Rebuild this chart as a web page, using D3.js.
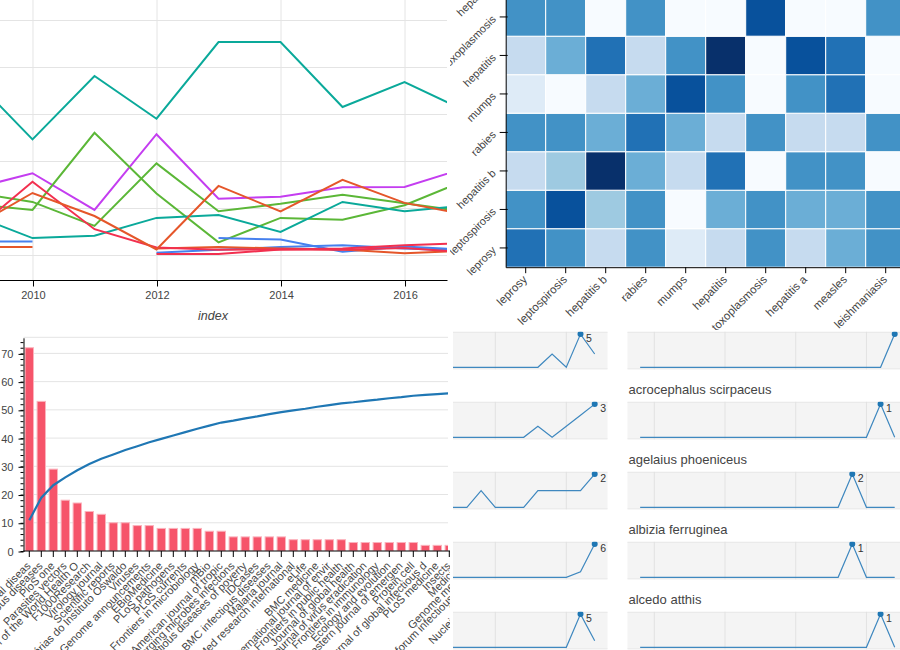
<!DOCTYPE html>
<html>
<head>
<meta charset="utf-8">
<script src="https://cdn.jsdelivr.net/npm/d3@7"></script>
<style>
  html, body { margin: 0; padding: 0; background: #fff; overflow: hidden; }
  svg { display: block; }
  text { font-family: "Liberation Sans", Arial, sans-serif; fill: #444; }
</style>
</head>
<body>
<script>
// line chart
var lineYears = [2009, 2010, 2011, 2012, 2013, 2014, 2015, 2016, 2017];
var lineTeal1 = [38.3, 24.7, 38.2, 29.1, 45.4, 45.4, 31.6, 36.9, 30.7];
var linePurple = [14.1, 17.5, 9.7, 25.8, 12.1, 12.5, 14.5, 14.6, 18.7];
var lineGreen1 = [11.0, 9.7, 26.1, 13.2, 2.8, 8.0, 7.6, 10.7, 16.1];
var lineGreen2 = [13.5, 11.4, 6.3, 19.6, 9.4, 11.0, 12.9, 11.1, 9.3];
var lineTeal2 = [8.8, 3.7, 4.2, 8.0, 8.6, 5.0, 11.4, 9.4, 10.7];
var lineBlue1 = [3.0, 3.0, null, 0.6, 1.2, 1.8, 2.2, 1.5, 1.0];
var lineBlue2 = [null, null, null, null, 3.7, 3.4, 0.8, 1.9, 1.2];
var lineOrange2 = [1.8, 1.8, null, 1.5, 1.8, 1.5, 1.3, 0.5, 1.0];
var lineRed2 = [null, null, null, 0.3, 0.3, 1.3, 1.5, 2.2, 2.6];
var lineRed1 = [4.6, 15.7, 5.6, 1.7, 1.2, 1.3, 1.2, 1.6, 0.7];
var lineOrange1 = [5.7, 13.3, 8.4, 1.3, 14.8, 9.4, 16.1, 11.2, 8.7];
var lineXTicks = [2010, 2012, 2014, 2016];
var lineYGrid = [0, 10, 20, 30, 40, 50];

// heatmap, shade levels 0-8
var heatCols = ['leprosy', 'leptospirosis', 'hepatitis b', 'rabies', 'mumps', 'hepatitis', 'toxoplasmosis', 'hepatitis a', 'measles', 'leishmaniasis'];
var heatRows = ['leprosy', 'leptospirosis', 'hepatitis b', 'rabies', 'mumps', 'hepatitis', 'toxoplasmosis', 'hepatitis a'];
var heatLeprosy = [6, 5, 2, 5, 1, 2, 5, 2, 4, 5];
var heatLeptospirosis = [5, 7, 3, 5, 0, 4, 5, 4, 4, 5];
var heatHepatitisB = [2, 3, 8, 4, 2, 6, 0, 5, 5, 0];
var heatRabies = [5, 5, 4, 6, 4, 2, 5, 2, 2, 5];
var heatMumps = [1, 0, 2, 4, 7, 5, 0, 5, 6, 0];
var heatHepatitis = [2, 4, 6, 2, 5, 8, 0, 7, 6, 0];
var heatToxoplasmosis = [5, 5, 0, 5, 0, 0, 7, 0, 0, 5];

// pareto bars
var barLabels = ['PLoS neglected tropical diseas', 'Clinical infectious diseases', 'PloS one', 'Parasites  vectors',
  'Bulletin of the World Health O', 'F1000Research', 'Virology journal', 'Scientific reports',
  'Memórias do Instituto Oswaldo', 'Viruses', 'Genome announcements', 'EBioMedicine', 'PLoS pathogens', 'PLoS currents',
  'Frontiers in microbiology', 'mBio', 'The American journal of tropic', 'Emerging microbes  infections',
  'Infectious diseases of poverty', 'IDCases', 'BMC infectious diseases', 'Malaria journal', 'BioMed research international',
  'eLife', 'BMC medicine', 'International journal of envir', 'Frontiers in public health', 'Journal of global health',
  'Journal of virus eradication', 'Frontiers in immunology', 'Ecology and evolution', 'The western journal of emergen',
  'Protein  cell', 'Journal of global infectious d', 'PLoS medicine', 'Insects', 'Medicine', 'Genome medicine',
  'Open forum infectious diseases', 'Global health', 'Nucleic acids research'];
var barValues = [72, 53, 29, 18, 17, 14, 13, 10, 10, 9, 9, 8, 8, 8, 8, 7, 7, 5, 5, 5, 5, 5, 4, 4, 4, 4, 4, 3, 3, 3, 3, 3, 3, 2, 2, 2, 2, 2, 2, 2, 2];
var barCumulative = [10.9, 18.9, 23.3, 26.1, 28.6, 30.8, 32.7, 34.2, 35.8, 37.1, 38.5, 39.7, 40.9, 42.1, 43.3, 44.4, 45.5, 46.2, 47.0, 47.7, 48.5, 49.2, 49.8, 50.4, 51.1, 51.7, 52.3, 52.7, 53.2, 53.6, 54.1, 54.5, 55.0, 55.3, 55.6, 55.9, 56.2, 56.5, 56.8, 57.1, 57.4];
var barYTicks = [0, 10, 20, 30, 40, 50, 60, 70];

// sparklines
var sparkYearsLeft = [2007, 2008, 2009, 2010, 2011, 2012, 2013, 2014, 2015, 2016, 2017];
var sparkYearsRight = [1999, 2000, 2001, 2002, 2003, 2004, 2005, 2006, 2007, 2008, 2009, 2010, 2011, 2012, 2013, 2014, 2015, 2016, 2017];
var sparkLeft1 = [0, 0, 0, 0, 0, 0, 0, 2, 0, 5, 2];
var sparkLeft2 = [0, 0, 0, 0, 0, 0, 1, 0, 1, 2, 3];
var sparkLeft3 = [0, 0, 1, 0, 0, 0, 1, 1, 1, 1, 2];
var sparkLeft4 = [0, 0, 0, 0, 0, 0, 0, 0, 0, 1, 6];
var sparkLeft5 = [0, 0, 0, 0, 0, 0, 0, 0, 0, 5, 1];
var sparkRight1 = [0, 0, 0, 0, 0, 0, 0, 0, 0, 0, 0, 0, 0, 0, 0, 0, 0, 0, 1];
var sparkRight2 = [0, 0, 0, 0, 0, 0, 0, 0, 0, 0, 0, 0, 0, 0, 0, 0, 0, 1, 0];
var sparkRight3 = [0, 0, 0, 0, 0, 0, 0, 0, 0, 0, 0, 0, 0, 0, 0, 2, 0, 0, 0];
var sparkRight4 = [0, 0, 0, 0, 0, 0, 0, 0, 0, 0, 0, 0, 0, 0, 0, 1, 0, 0, 0];
var sparkRight5 = [0, 0, 0, 0, 0, 0, 0, 0, 0, 0, 0, 0, 0, 0, 0, 0, 0, 1, 0];
var sparkTitles = ['', 'acrocephalus scirpaceus', 'agelaius phoeniceus', 'albizia ferruginea', 'alcedo atthis'];
var sparkGridLeft = [2010, 2015];
var sparkGridRight = [2000, 2005, 2010, 2015];

var canvas = d3.select('body').append('svg')
  .attr('class', 'canvas')
  .attr('width', 900)
  .attr('height', 650);

var defs = canvas.append('defs');
var addClip = function(id, x, y, w, h) {
  defs.append('clipPath').attr('id', id).append('rect')
    .attr('x', x).attr('y', y).attr('width', w).attr('height', h);
};

var styleAxis = function(g) {
  g.selectAll('path.domain').attr('stroke', '#000').attr('stroke-width', 1);
  g.selectAll('.tick line').attr('stroke', '#000');
  g.selectAll('.tick text').style('fill', '#444').attr('font-size', 11).attr('font-family', '"Liberation Sans", Arial, sans-serif');
};

//Line chart, top left
var drawLines = function() {
  var x = d3.scaleLinear().domain([2009.476, 2016.685]).range([0, 447]);
  var y = d3.scaleLinear().domain([0, 10]).range([255.5, 208.5]);
  addClip('clip-lines', 0, 0, 447, 280);

  var g = canvas.append('g');
  g.selectAll('.hgrid').data(lineYGrid).enter().append('line')
    .attr('x1', 0).attr('x2', 447)
    .attr('y1', function(d) { return y(d); })
    .attr('y2', function(d) { return y(d); })
    .attr('stroke', '#e4e4e4');
  g.selectAll('.vgrid').data(lineXTicks).enter().append('line')
    .attr('x1', function(d) { return x(d) + 0.5; })
    .attr('x2', function(d) { return x(d) + 0.5; })
    .attr('y1', 0).attr('y2', 280)
    .attr('stroke', '#e4e4e4');

  var series = [
    [lineTeal1, '#0aa99a'], [linePurple, '#c43df0'], [lineGreen1, '#5bb737'], [lineGreen2, '#5bb737'],
    [lineTeal2, '#0aa99a'], [lineBlue1, '#4680ee'], [lineBlue2, '#4680ee'], [lineOrange2, '#e5562a'],
    [lineRed2, '#f2304f'], [lineRed1, '#f2304f'], [lineOrange1, '#e5562a']
  ];
  var path = d3.line()
    .defined(function(d) { return d !== null; })
    .x(function(d, i) { return x(lineYears[i]); })
    .y(function(d) { return y(d); });
  g.append('g').attr('clip-path', 'url(#clip-lines)').selectAll('path').data(series).enter().append('path')
    .attr('d', function(d) { return path(d[0]); })
    .attr('fill', 'none')
    .attr('stroke', function(d) { return d[1]; })
    .attr('stroke-width', 2);

  var axis = g.append('g').attr('transform', 'translate(0.5,280.5)')
    .call(d3.axisBottom(x).tickValues(lineXTicks).tickFormat(d3.format('d')).tickSize(6).tickPadding(5));
  styleAxis(axis);
  axis.select('path.domain').attr('d', 'M-1,0H447');

  g.append('text').attr('x', 213).attr('y', 320).attr('text-anchor', 'middle')
    .attr('font-size', 12.5).attr('font-style', 'italic').text('index');
};

//Heatmap, top right
var drawHeatmap = function() {
  var x = d3.scaleBand().domain(heatCols).range([505.7, 905.7]);
  var y = d3.scaleBand().domain(heatRows).range([267.2, 267.2 - 38.5 * heatRows.length]);
  var color = d3.scaleQuantize().domain([0, 9]).range(d3.schemeBlues[9]);
  var matrix = [heatLeprosy, heatLeptospirosis, heatHepatitisB, heatRabies, heatMumps, heatHepatitis, heatToxoplasmosis];
  addClip('clip-heat', 450, 0, 450, 330);

  var g = canvas.append('g').attr('clip-path', 'url(#clip-heat)');
  var rows = g.selectAll('.heat-row').data(matrix).enter().append('g');
  rows.selectAll('rect').data(function(d, i) {
    return d.map(function(v, j) { return { v: v, row: heatRows[i], col: heatCols[j] }; });
  }).enter().append('rect')
    .attr('x', function(d) { return x(d.col); })
    .attr('y', function(d) { return y(d.row); })
    .attr('width', x.bandwidth())
    .attr('height', y.bandwidth())
    .attr('fill', function(d) { return color(d.v); })
    .attr('stroke', '#fff')
    .attr('stroke-width', 1);

  var xAxis = g.append('g').attr('transform', 'translate(0,267.2)')
    .call(d3.axisBottom(x).tickSize(6).tickSizeOuter(0));
  styleAxis(xAxis);
  xAxis.selectAll('.tick text')
    .attr('font-size', 11.5)
    .attr('text-anchor', 'end')
    .attr('dx', 0).attr('dy', 0)
    .attr('transform', 'translate(2,13) rotate(-45)')
    .attr('y', 0).attr('x', 0);

  var yAxis = g.append('g').attr('transform', 'translate(505.7,0)')
    .call(d3.axisLeft(y).tickSize(6).tickSizeOuter(0));
  styleAxis(yAxis);
  yAxis.selectAll('.tick line').attr('x2', -6).attr('x1', 2);
  yAxis.selectAll('.tick text')
    .attr('font-size', 11)
    .attr('text-anchor', 'end')
    .attr('dx', 0).attr('dy', 0)
    .attr('transform', 'translate(-9,3) rotate(-45)')
    .attr('y', 0).attr('x', 0);
};

//Pareto bars, bottom left
var drawBars = function() {
  var x = d3.scaleBand().domain(barLabels).range([23.3, 23.3 + 12 * barLabels.length]).paddingInner(0.3).paddingOuter(0.15);
  var y = d3.scaleLinear().domain([0, 75.7]).range([551, 337.3]);
  addClip('clip-bars', 0, 330, 448, 221);
  addClip('clip-bar-axis', 0, 330, 450, 320);

  var g = canvas.append('g');
  g.selectAll('.hgrid').data(barYTicks.slice(1).concat([75.7])).enter().append('line')
    .attr('x1', 23.5).attr('x2', 448)
    .attr('y1', function(d) { return y(d); })
    .attr('y2', function(d) { return y(d); })
    .attr('stroke', '#e4e4e4');

  var plot = g.append('g').attr('clip-path', 'url(#clip-bars)');
  plot.selectAll('rect').data(barValues).enter().append('rect')
    .attr('x', function(d, i) { return x(barLabels[i]); })
    .attr('y', function(d) { return y(d); })
    .attr('width', x.bandwidth())
    .attr('height', function(d) { return y(0) - y(d); })
    .attr('fill', '#f6546a')
    .attr('stroke', '#fbb3bd')
    .attr('stroke-width', 1);

  var path = d3.line()
    .x(function(d, i) { return x(barLabels[i]) + x.bandwidth() / 2; })
    .y(function(d) { return y(d); });
  plot.append('path').attr('d', path(barCumulative))
    .attr('fill', 'none')
    .attr('stroke', '#1f77b4')
    .attr('stroke-width', 2.2);

  var xAxis = g.append('g').attr('clip-path', 'url(#clip-bar-axis)').append('g').attr('transform', 'translate(0,551)')
    .call(d3.axisBottom(x).tickSize(6).tickSizeOuter(0));
  styleAxis(xAxis);
  xAxis.selectAll('.tick text')
    .attr('text-anchor', 'end')
    .attr('dx', 0).attr('dy', 0)
    .attr('transform', 'translate(2,15.5) rotate(-45)')
    .attr('y', 0).attr('x', 0);
  xAxis.select('path.domain').attr('d', 'M23.3,0H450');

  // minor ticks every 2, then the labelled axis over them
  var axisX = 23.5;
  g.selectAll('.minor').data(d3.range(0, 76, 2)).enter().append('line')
    .attr('x1', axisX - 3).attr('x2', axisX)
    .attr('y1', function(d) { return y(d) + 0.5; })
    .attr('y2', function(d) { return y(d) + 0.5; })
    .attr('stroke', '#000');
  var yAxis = g.append('g').attr('transform', 'translate(' + axisX + ',0.5)')
    .call(d3.axisLeft(y).tickValues(barYTicks).tickSize(5).tickPadding(5).tickSizeOuter(0));
  styleAxis(yAxis);
};

//One small multiple
var drawSpark = function(years, values, gridYears, left, right, xAt, top, title, id) {
  var height = 37.5;
  var x = d3.scaleLinear().domain(xAt.domain).range(xAt.range);
  var y = d3.scaleLinear().domain([0, d3.max(values)]).range([top + 35.5, top + 2.3]);
  addClip(id, left, top, right - left, height);

  var g = canvas.append('g');
  if (title) {
    g.append('text').attr('x', left + 1).attr('y', top - 8).attr('font-size', 13).text(title);
  }
  g.append('rect').attr('x', left).attr('y', top).attr('width', right - left).attr('height', height)
    .attr('fill', '#f4f4f4');
  g.selectAll('.edge').data([top + 0.5, top + height - 0.5]).enter().append('line')
    .attr('x1', left).attr('x2', right)
    .attr('y1', function(d) { return d; })
    .attr('y2', function(d) { return d; })
    .attr('stroke', '#e8e8e8');
  g.selectAll('.vgrid').data(gridYears).enter().append('line')
    .attr('x1', function(d) { return x(d); })
    .attr('x2', function(d) { return x(d); })
    .attr('y1', top).attr('y2', top + height)
    .attr('stroke', '#e2e2e2');

  var plot = g.append('g').attr('clip-path', 'url(#' + id + ')');
  var path = d3.line()
    .x(function(d, i) { return x(years[i]); })
    .y(function(d) { return y(d); });
  plot.append('path').attr('d', path(values))
    .attr('fill', 'none')
    .attr('stroke', '#3f88bf')
    .attr('stroke-width', 1.2);

  var peak = d3.max(values);
  var peakAt = values.indexOf(peak);
  plot.append('circle')
    .attr('cx', x(years[peakAt]))
    .attr('cy', y(peak))
    .attr('r', 3)
    .attr('fill', '#1f77b4');
  g.append('text')
    .attr('x', x(years[peakAt]) + 5.5)
    .attr('y', y(peak) + 8)
    .attr('font-size', 10.5)
    .style('fill', '#333')
    .text(peak);
};

var drawSparks = function() {
  var leftSeries = [sparkLeft1, sparkLeft2, sparkLeft3, sparkLeft4, sparkLeft5];
  var rightSeries = [sparkRight1, sparkRight2, sparkRight3, sparkRight4, sparkRight5];
  var leftScale = { domain: [2010, 2017], range: [495.3, 594.7] };
  var rightScale = { domain: [2000, 2017], range: [654.3, 894.7] };
  leftSeries.forEach(function(values, i) {
    drawSpark(sparkYearsLeft, values, sparkGridLeft, 453, 607.5, leftScale, 331.8 + 70 * i, '', 'spark-l' + i);
  });
  rightSeries.forEach(function(values, i) {
    drawSpark(sparkYearsRight, values, sparkGridRight, 627.5, 900, rightScale, 331.8 + 70 * i, sparkTitles[i], 'spark-r' + i);
  });
};

drawLines();
drawHeatmap();
drawBars();
drawSparks();
</script>
</body>
</html>
